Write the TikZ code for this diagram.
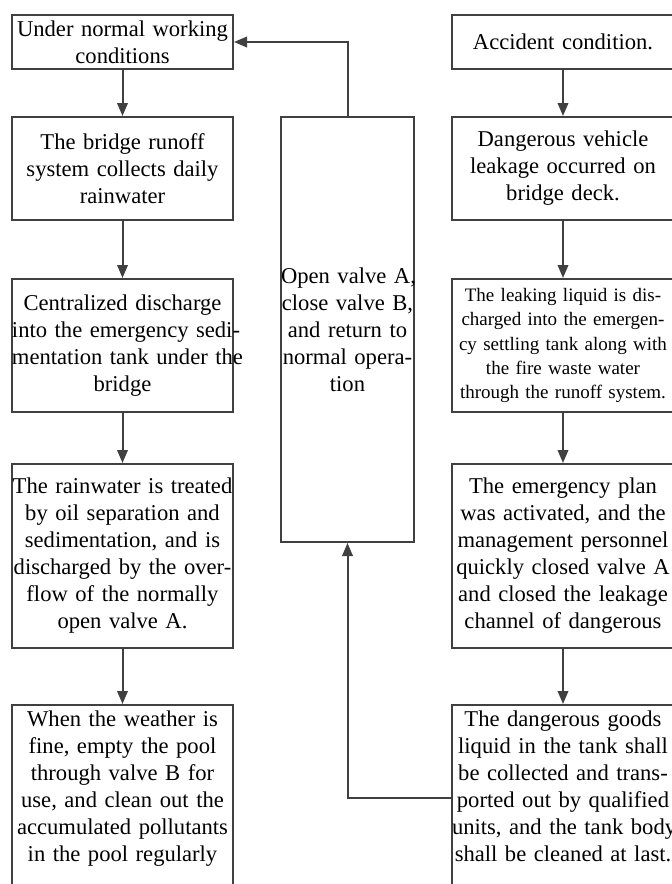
\documentclass[tikz,border=0pt]{standalone}
\usepackage{fontspec}
\setmainfont{Liberation Serif}
\usetikzlibrary{arrows.meta}
\definecolor{linec}{HTML}{404040}
\newcommand{\tline}[1]{\mbox{#1}}
\begin{document}
\begin{tikzpicture}[x=1pt,y=-1pt,
  box/.style={draw=linec, line width=2pt, inner sep=0pt, align=center,
    font=\fontsize{22.6}{27}\selectfont, text=black},
  colbox/.style={box, text width=221pt, minimum width=221pt},
  rcolbox/.style={box, text width=222pt, minimum width=222pt},
  smalltext/.style={font=\fontsize{19}{24.2}\selectfont},
  link/.style={draw=linec, line width=2pt, -{Triangle[length=13pt,width=10.5pt]}}]
\clip (0,0) rectangle (672,884);
\fill[white] (0,0) rectangle (672,884);
% left column
\node[colbox, minimum height=54pt] (L1) at (122.5,42) {\tline{Under normal working}\\\tline{conditions}};
\node[colbox, minimum height=103pt] (L2) at (122.5,168.5) {\tline{The bridge runoff}\\\tline{system collects daily}\\\tline{rainwater}};
\node[colbox, minimum height=133pt] (L3) at (122.5,345.5) {\tline{Centralized discharge}\\\tline{into the emergency sedi-}\\\tline{mentation tank under the}\\\tline{bridge}};
\node[colbox, minimum height=184pt] (L4) at (122.5,556) {\tline{The rainwater is treated}\\\tline{by oil separation and}\\\tline{sedimentation, and is}\\\tline{discharged by the over-}\\\tline{flow of the normally}\\\tline{open valve A.}};
\node[colbox, minimum height=190pt] (L5) at (122.5,800) {\tline{When the weather is}\\\tline{fine, empty the pool}\\\tline{through valve B for}\\\tline{use, and clean out the}\\\tline{accumulated pollutants}\\\tline{in the pool regularly}\\ \mbox{}};
% middle
\node[box, text width=133pt, minimum width=133pt, minimum height=425pt] (M) at (347.5,329.5) {\tline{Open valve A,}\\\tline{close valve B,}\\\tline{and return to}\\\tline{normal opera-}\\\tline{tion}};
% right column
\node[rcolbox, minimum height=54pt] (R1) at (563,42) {\tline{Accident condition.}};
\node[rcolbox, minimum height=103pt] (R2) at (563,168.5) {\tline{Dangerous vehicle}\\\tline{leakage occurred on}\\\tline{bridge deck.}};
\node[rcolbox, smalltext, minimum height=133pt] (R3) at (563,345.5) {\tline{The leaking liquid is dis-}\\\tline{charged into the emergen-}\\\tline{cy settling tank along with}\\\tline{the fire waste water}\\\tline{through the runoff system.}};
\node[rcolbox, minimum height=184pt] (R4) at (563,556) {\tline{The emergency plan}\\\tline{was activated, and the}\\\tline{management personnel}\\\tline{quickly closed valve A}\\\tline{and closed the leakage}\\\tline{channel of dangerous}};
\node[rcolbox, minimum height=190pt] (R5) at (563,800) {\tline{The dangerous goods}\\\tline{liquid in the tank shall}\\\tline{be collected and trans-}\\\tline{ported out by qualified}\\\tline{units, and the tank body}\\\tline{shall be cleaned at last.}\\ \mbox{}};
% connectors
\draw[link] (L1) -- (L2);
\draw[link] (L2) -- (L3);
\draw[link] (L3) -- (L4);
\draw[link] (L4) -- (L5);
\draw[link] (R1) -- (R2);
\draw[link] (R2) -- (R3);
\draw[link] (R3) -- (R4);
\draw[link] (R4) -- (R5);
\draw[link] ([yshift=2pt]R5.west) -| (M.south);
\draw[link] (M.north) |- (L1.east);
\end{tikzpicture}
\end{document}
